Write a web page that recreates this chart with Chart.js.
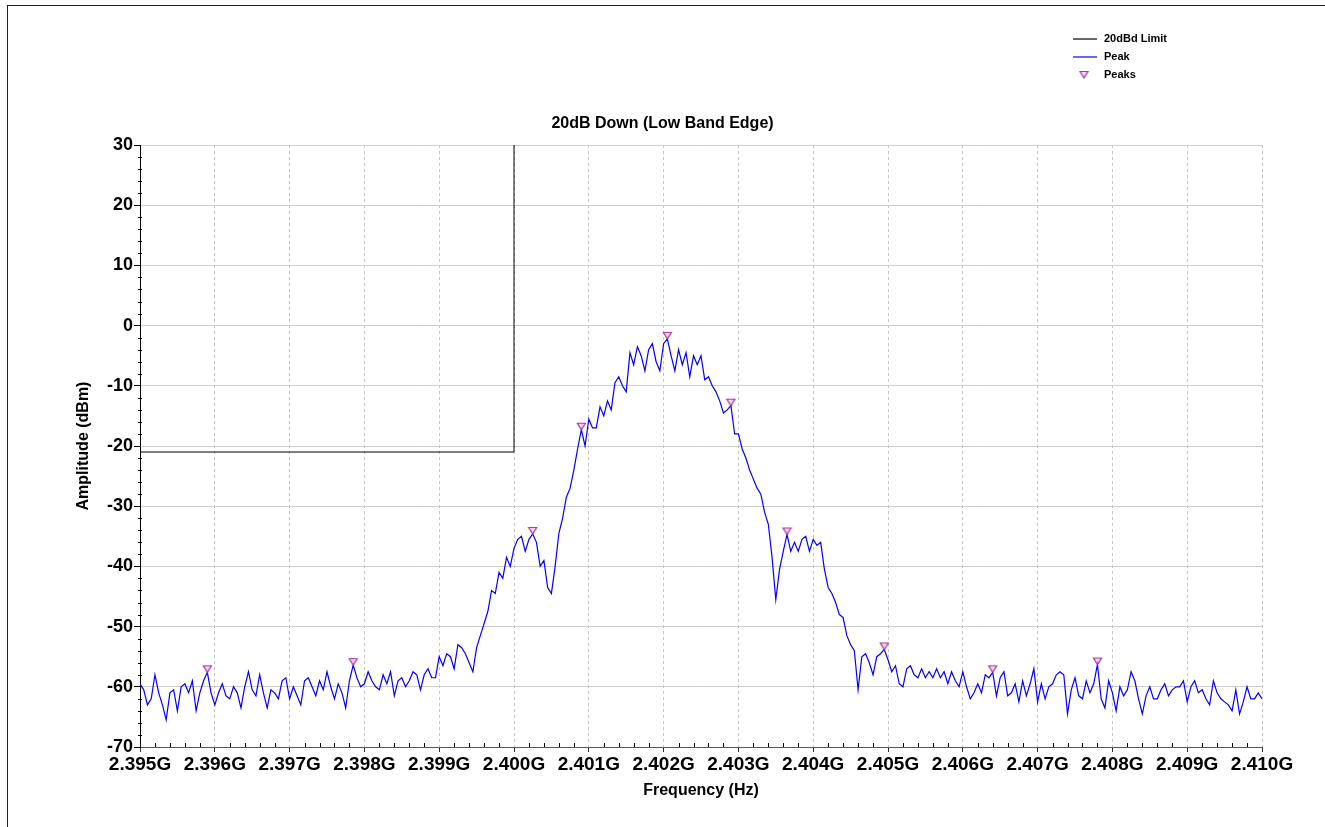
<!DOCTYPE html>
<html>
<head>
<meta charset="utf-8">
<script src="https://cdn.jsdelivr.net/npm/chart.js@4.4.1/dist/chart.umd.min.js"></script>
<style>
  html, body { margin: 0; padding: 0; background: #ffffff; }
  #wrap { position: relative; width: 1325px; height: 827px; overflow: hidden; }
  #frame { position: absolute; left: 7px; top: 5px; width: 1400px; height: 900px;
           border-left: 1px solid #222; border-top: 1px solid #222; }
  #c { position: absolute; left: 0; top: 0; }
</style>
</head>
<body>
<div id="wrap">
  <div id="frame"></div>
  <canvas id="c" width="1325" height="827"></canvas>
</div>
<script>
// Sweep: 2395 MHz .. 2410 MHz, one sample every 0.05 MHz
const FREQ_START_MHZ = 2395;
const FREQ_STEP_MHZ = 0.05;

// Peak-hold trace (dBm), one value per sweep point
const peakTraceDbm = [
  -59.5, -60.5, -63, -62, -58, -61, -63, -65.5, -61, -60.5,
  -64, -60, -59.5, -61, -59, -64, -61, -59, -57.6, -61,
  -63, -61, -59.5, -61.5, -62, -60, -61, -63.5, -60, -57.5,
  -60.5, -61.5, -58, -61, -63.5, -60.5, -61, -62, -59, -58.5,
  -62, -60, -61.5, -63, -59, -58.5, -60, -61.5, -59, -60.5,
  -57.5, -60, -62, -59.5, -61, -63.5, -59, -56.4, -58.5, -60,
  -59.5, -57.5, -59, -60, -60.5, -58, -59.5, -57.5, -61.5, -59,
  -58.5, -60, -59, -57.5, -58, -60.5, -58, -57, -58.5, -58.5,
  -55, -56.5, -54.5, -55, -57, -53, -53.5, -54.5, -56, -57.5,
  -53.5, -51.5, -49.5, -47.5, -44, -44.5, -41, -42, -38.5, -40,
  -37, -35.5, -35, -37.5, -35.5, -34.6, -36, -40, -39, -43.5,
  -44.5, -40, -34.5, -32, -28.5, -27, -24, -20.5, -17.3, -20,
  -15.5, -17, -17, -13.5, -15, -12.5, -14, -9.5, -8.5, -10,
  -11, -4.5, -6.5, -3.5, -5, -7.5, -4, -3, -6, -7.5,
  -3, -2.2, -5, -7.5, -4, -6.5, -4.5, -8.5, -5, -6.5,
  -5, -9, -8.5, -10, -11, -12.5, -14.5, -14, -13.3, -18,
  -18, -20.5, -22, -24, -25.5, -27, -28, -31, -33, -38.5,
  -45.5, -40.5, -37.5, -34.7, -37.5, -36, -37.5, -35.5, -35, -37.5,
  -35.5, -36.5, -36, -40.5, -43.5, -44.5, -46, -48, -48.5, -51.5,
  -53, -54, -60.5, -55, -54.5, -56, -58, -55, -54.5, -53.8,
  -55.5, -57.5, -56.5, -59.5, -60, -57, -56.5, -58, -58.5, -57,
  -58.5, -57.5, -58.5, -57, -58.5, -57.5, -59.5, -57.5, -59, -60,
  -57.5, -60, -62, -61, -59.5, -61, -58, -58.5, -57.6, -61.5,
  -58.5, -57.5, -61.5, -61, -59.5, -62.5, -59, -61.5, -59.5, -57,
  -62.5, -59.5, -62, -60, -59.5, -58, -57.5, -58, -64.5, -60.5,
  -58.5, -61.5, -62, -59, -61, -59.5, -56.3, -62, -63.5, -59,
  -61, -64, -60, -61.5, -60.5, -57.5, -59, -62, -64.5, -61.5,
  -60, -62, -62, -60.5, -59.5, -61.5, -60.5, -60, -60, -59,
  -62.5, -60, -59, -61, -60.5, -62, -63, -59, -61, -62,
  -62.5, -63, -64, -60.5, -64.5, -62.5, -60, -62, -62, -61,
  -62
];

// Marked peaks
const peakMarkerFreqMHz = [2395.90, 2397.85, 2400.25, 2400.90, 2402.05, 2402.90, 2403.65, 2404.95, 2406.40, 2407.80];
const peakMarkerDbm     = [-57.6, -56.4, -34.6, -17.3, -2.2, -13.3, -34.7, -53.8, -57.6, -56.3];

// 20 dB down limit
const limitFreqMHz = [2395, 2400, 2400];
const limitDbm     = [-21, -21, 30];

// Axis ranges
const xRangeMHz = [2395, 2410];
const yRangeDbm = [-70, 30];

const FONT = "'Liberation Sans', Arial, Helvetica, sans-serif";

const tracePoints = peakTraceDbm.map((v, i) => ({ x: FREQ_START_MHZ + i * FREQ_STEP_MHZ, y: v }));
const markerPoints = peakMarkerFreqMHz.map((f, i) => ({ x: f, y: peakMarkerDbm[i] }));
const limitPoints = limitFreqMHz.map((f, i) => ({ x: f, y: limitDbm[i] }));

// Down-pointing triangle whose tip sits on the image centre (so it sits on the peak)
function makeMarker() {
  const c = document.createElement('canvas');
  c.width = 11; c.height = 22;
  const g = c.getContext('2d');
  g.beginPath();
  g.moveTo(1.5, 4.5); g.lineTo(9.5, 4.5); g.lineTo(5.5, 11); g.closePath();
  g.fillStyle = 'rgba(235,175,235,0.55)';
  g.fill();
  g.strokeStyle = '#a8389f';
  g.lineWidth = 1.2;
  g.stroke();
  return c;
}
const markerImg = makeMarker();

// Minor tick marks on both axes
const minorTicks = {
  id: 'minorTicks',
  afterDraw(chart) {
    const { ctx, scales: { x, y } } = chart;
    ctx.save();
    ctx.strokeStyle = '#000';
    ctx.lineWidth = 1;
    ctx.beginPath();
    for (let v = yRangeDbm[0]; v <= yRangeDbm[1]; v += 2) {
      if (v % 10 === 0) continue;
      const py = Math.round(y.getPixelForValue(v)) + 0.5;
      ctx.moveTo(x.left - 2, py); ctx.lineTo(x.left + 2, py);
    }
    for (let k = 0; k <= (xRangeMHz[1] - xRangeMHz[0]) * 5; k++) {
      if (k % 5 === 0) continue;
      const px = Math.round(x.getPixelForValue(xRangeMHz[0] + k * 0.2)) + 0.5;
      ctx.moveTo(px, y.bottom); ctx.lineTo(px, y.bottom - 4);
    }
    ctx.stroke();
    ctx.restore();
  }
};

// Legend in the upper right corner
const cornerLegend = {
  id: 'cornerLegend',
  afterDraw(chart) {
    const ctx = chart.ctx;
    const x0 = 1073, y0 = 39, dy = 18;
    ctx.save();
    ctx.font = 'bold 11px ' + FONT;
    ctx.textBaseline = 'middle';
    ctx.textAlign = 'left';
    chart.data.datasets.forEach((ds, i) => {
      const yy = y0 + i * dy;
      if (ds.showLine === false) {
        ctx.drawImage(markerImg, x0 + 11 - 5.5, yy - 8);
      } else {
        ctx.strokeStyle = ds.borderColor;
        ctx.lineWidth = 1.2;
        ctx.beginPath();
        ctx.moveTo(x0, yy); ctx.lineTo(x0 + 24, yy);
        ctx.stroke();
      }
      ctx.fillStyle = '#000';
      ctx.fillText(ds.label, x0 + 31, yy);
    });
    ctx.restore();
  }
};

new Chart(document.getElementById('c'), {
  type: 'scatter',
  data: {
    datasets: [
      { label: '20dBd Limit', data: limitPoints, showLine: true, borderColor: '#000000',
        borderWidth: 1, pointRadius: 0, tension: 0, order: 1 },
      { label: 'Peak', data: tracePoints, showLine: true, borderColor: '#0000ff',
        borderWidth: 1.2, pointRadius: 0, tension: 0, order: 2 },
      { label: 'Peaks', data: markerPoints, showLine: false, pointStyle: markerImg,
        pointRadius: 5, order: 0 }
    ]
  },
  options: {
    responsive: false,
    animation: false,
    devicePixelRatio: 1,
    layout: { padding: 0 },
    plugins: {
      legend: { display: false },
      tooltip: { enabled: false },
      title: {
        display: true,
        text: '20dB Down (Low Band Edge)',
        color: '#000',
        font: { family: FONT, size: 16, weight: 'bold' },
        padding: { top: 114, bottom: 11.8 }
      }
    },
    scales: {
      x: {
        type: 'linear',
        position: 'bottom',
        min: xRangeMHz[0],
        max: xRangeMHz[1],
        afterFit(scale) { scale.height = 80; },
        ticks: {
          stepSize: 1,
          autoSkip: false,
          maxRotation: 0,
          padding: 1,
          color: '#000',
          font: { family: FONT, size: 19, weight: 'bold' },
          callback: (v) => (v / 1000).toFixed(3) + 'G'
        },
        grid: {
          color: '#c4c4c4',
          lineWidth: 1,
          drawTicks: true,
          tickLength: 5,
          tickColor: '#333',
          tickBorderDash: []
        },
        border: { display: true, color: '#555', width: 1, dash: [3, 3] },
        title: {
          display: true,
          text: 'Frequency (Hz)',
          color: '#000',
          font: { family: FONT, size: 16, weight: 'bold' },
          padding: { top: 0, bottom: 27 }
        }
      },
      y: {
        type: 'linear',
        min: yRangeDbm[0],
        max: yRangeDbm[1],
        afterFit(scale) { scale.width = 140; },
        ticks: {
          stepSize: 10,
          padding: 1,
          color: '#000',
          font: { family: FONT, size: 18, weight: 'bold' }
        },
        grid: {
          color: '#cccccc',
          lineWidth: 1,
          drawTicks: true,
          tickLength: 6,
          tickColor: '#000'
        },
        border: { display: true, color: '#000', width: 1 },
        title: {
          display: true,
          text: 'Amplitude (dBm)',
          color: '#000',
          font: { family: FONT, size: 16, weight: 'bold' },
          padding: { top: 74, bottom: 0 }
        }
      },
      // empty margin on the right of the plot
      yRight: {
        type: 'linear',
        position: 'right',
        min: yRangeDbm[0],
        max: yRangeDbm[1],
        afterFit(scale) { scale.width = 63; },
        ticks: { display: false },
        grid: { display: false, drawTicks: false },
        border: { display: false }
      }
    }
  },
  plugins: [minorTicks, cornerLegend]
});
</script>
</body>
</html>
